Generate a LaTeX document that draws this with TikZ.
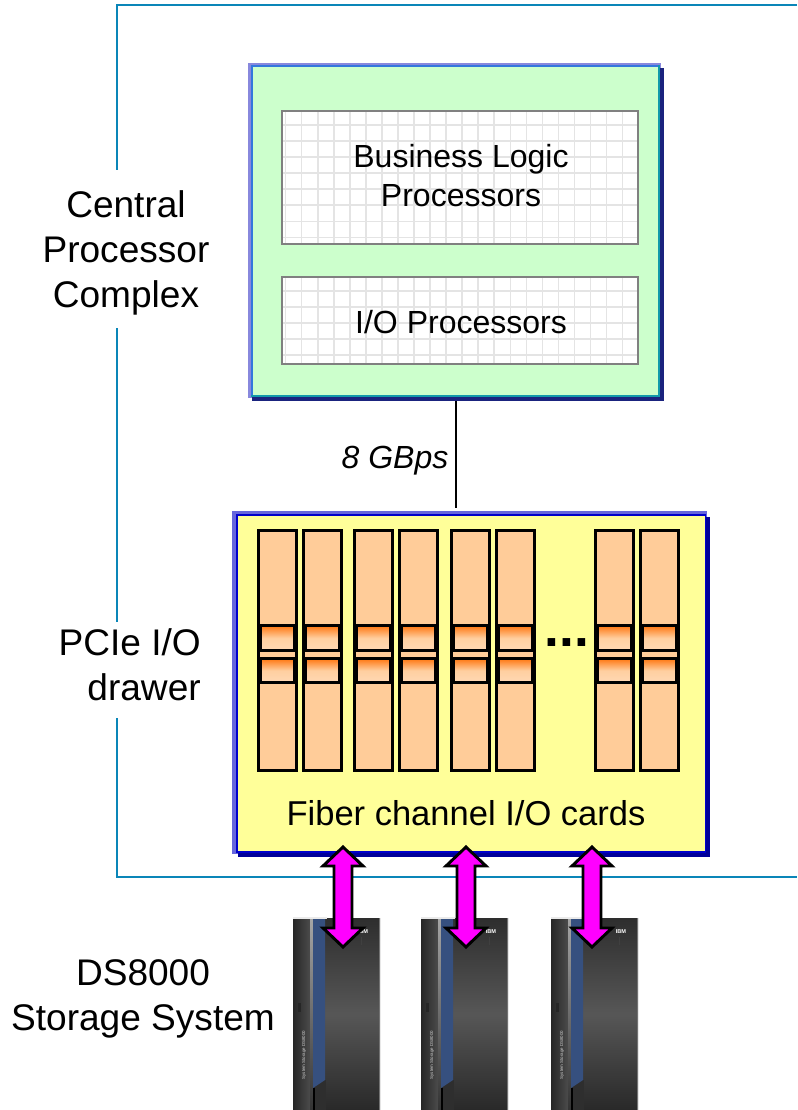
\documentclass[tikz,border=0pt]{standalone}
\usepackage{fontspec}
\setmainfont{Liberation Sans}
\definecolor{frameline}{HTML}{0A86B8}
\definecolor{cpcgreen}{HTML}{CCFFCC}
\definecolor{cpcteal}{HTML}{1199AA}
\definecolor{cpcblue}{HTML}{3377DD}
\definecolor{cpclight}{HTML}{8888DD}
\definecolor{shadownavy}{HTML}{1A237E}
\definecolor{drawerlight}{HTML}{6666DD}
\definecolor{drawerblue}{HTML}{0000CC}
\definecolor{drawernavy}{HTML}{000099}
\definecolor{draweryellow}{HTML}{FFFF99}
\definecolor{cardfill}{HTML}{FFCC99}
\definecolor{gridline}{HTML}{E4E4E4}
\definecolor{arrowpink}{HTML}{FF00FF}
\definecolor{porttop}{HTML}{FF7711}
\definecolor{portmid}{HTML}{FFCFA0}
\definecolor{portbot}{HTML}{FFD8B4}
\definecolor{rackblue}{HTML}{36507F}
\newcommand{\pxbox}[6]{%
  \pgfmathsetmacro{\bw}{((#4)-(#2))*0.75}%
  \pgfmathsetmacro{\bh}{((#5)-(#3))*0.75}%
  \node[rectbase,minimum width=\bw pt,minimum height=\bh pt,#6] (#1) at ({((#2)+(#4))/2},{((#3)+(#5))/2}) {};}
\tikzset{
  x=0.75pt,y=-0.75pt,
  rectbase/.style={rectangle,inner sep=0pt,outer sep=0pt},
  biglabel/.style={font=\fontsize{27.8}{33.75}\selectfont,align=center,inner sep=0pt,text=black},
  inlabel/.style={font=\fontsize{24}{29.25}\selectfont,align=center,inner sep=0pt,text=black},
  framestyle/.style={draw=frameline,line width=1.1pt},
  procbox/.style={draw=black!50,line width=1.6pt},
  cardbox/.style={draw=black,line width=2.1pt,fill=cardfill},
  portbox/.style={draw=black,line width=2.5pt,top color=porttop,bottom color=portbot,middle color=portmid},
  ioarrow/.style={draw=black,line width=2.2pt,fill=arrowpink,line join=miter},
}
\begin{document}
\begin{tikzpicture}
\useasboundingbox (0,0) rectangle (797,1110);
\fill[white] (0,0) rectangle (797,1110);
% frame
\coordinate (ftl) at (117,5); \coordinate (ftr) at (797,5);
\coordinate (fbl) at (117,877); \coordinate (fbr) at (797,877);
\coordinate (g1) at (117,170); \coordinate (g2) at (117,328);
\coordinate (g3) at (117,622); \coordinate (g4) at (117,718);
\draw[framestyle] (ftr) -- (ftl) -- (g1);
\draw[framestyle] (g2) -- (g3);
\draw[framestyle] (g4) -- (fbl) -- (fbr);
% CPC box
\pxbox{cpclightbox}{248}{63}{661}{398}{fill=cpclight}
\pxbox{cpcshadow}{252}{68}{664}{401}{fill=shadownavy}
\pxbox{cpcedge}{251}{65}{660}{397}{fill=cpcteal}
\pxbox{cpcedgeb}{251}{65}{658}{395}{fill=cpcblue}
\pxbox{cpc}{253}{67}{658}{395}{fill=cpcgreen}
% processor boxes
\fill[white] (281,110) rectangle (638,244);
\fill[white] (281,276) rectangle (638,364);
\foreach \i in {0,...,21} {
  \draw[gridline,line width=1.2pt] ({285.6+16.05*\i},110) -- ({285.6+16.05*\i},244);
  \draw[gridline,line width=1.2pt] ({285.6+16.05*\i},276) -- ({285.6+16.05*\i},364);
}
\foreach \j in {0,...,7} {
  \draw[gridline,line width=1.2pt] (281,{125+16.05*\j}) -- (638,{125+16.05*\j});
}
\foreach \j in {0,...,4} {
  \draw[gridline,line width=1.2pt] (281,{291+16.05*\j}) -- (638,{291+16.05*\j});
}
\pxbox{blp}{282}{111}{638}{244}{procbox}
\pxbox{iop}{282}{277}{638}{364}{procbox}
\node[inlabel] (blptext) at (461,176) {Business Logic\\Processors};
\node[inlabel] (ioptext) at (461,322) {I/O Processors};
% drawer
\pxbox{drawerlightbox}{232}{511}{707}{854}{fill=drawerlight}
\pxbox{drawershadow}{238}{517}{710}{857}{fill=drawernavy}
\pxbox{draweredge}{236}{514}{706}{853}{fill=drawerblue}
\pxbox{drawer}{238}{516}{705}{851}{fill=draweryellow}
% link
\coordinate (linkend) at (456,508);
\draw[black,line width=1.1pt] (cpcshadow.south -| linkend) -- (linkend);
\node[inlabel,font=\fontsize{24}{29.25}\itshape] (gbps) at (395,461) {8 GBps};
% cards
\foreach \n/\a in {1/257,2/302,3/353,4/398,5/450,6/495,7/594,8/639} {
  \pxbox{card\n}{\a+1.5}{530.5}{\a+39.5}{770.5}{cardbox}
  \pxbox{porta\n}{\a+3.7}{625.7}{\a+37.3}{650.5}{portbox}
  \pxbox{portb\n}{\a+3.7}{658.7}{\a+37.3}{682.5}{portbox}
}
\node[font=\fontsize{40}{40}\bfseries\selectfont,inner sep=0pt] (dots) at (567,643) {...};
\node[font=\fontsize{25.9}{30}\selectfont,inner sep=0pt] (fibertext) at (466,813) {Fiber channel I/O cards};
% racks
\foreach \n/\r in {1/293,2/421,3/551} {
  \pxbox{rackleft\n}{\r}{918}{\r+20}{1110}{left color=black!85,right color=black!68}
  \pxbox{rack\n}{\r+32}{918}{\r+87}{1110}{top color=black!82,bottom color=black!84,middle color=black!66}
  \pxbox{rackstrip\n}{\r+17}{918}{\r+20}{1110}{top color=black!35,bottom color=black!80}
  \fill[black!82] (\r+20,1080) rectangle (\r+33,1110);
  \fill[rackblue] (\r+20,918) -- (\r+32,918) -- (\r+32,1080) -- (\r+20,1088) -- cycle;
  \fill[black] (\r+20,1088) rectangle (\r+22,1110);
  \fill[black!8] (\r,917) rectangle (\r+34,919);
  \fill[black!55] (\r+86,918) rectangle (\r+87,1110);
  \fill[black!85] (\r+5,1003) rectangle (\r+8,1012);
  \node[rotate=90,font=\fontsize{3.3}{4}\selectfont,text=black!20,inner sep=0pt] (racktext\n) at (\r+11,1055) {System Storage DS8000};
  \node[font=\fontsize{4.2}{5}\bfseries\selectfont,text=white,inner sep=0pt] (ibm\n) at (\r+70,932) {IBM};
  \fill[black!75] (\r+68,937) rectangle (\r+69,945);
}
% arrows
\foreach \n/\c in {1/343,2/466,3/592} {
  \draw[ioarrow] (\c,847) -- (\c+20,866) -- (\c+9,866) -- (\c+9,928) -- (\c+20,928)
     -- (\c,947) -- (\c-20,928) -- (\c-9,928) -- (\c-9,866) -- (\c-20,866) -- cycle;
}
% labels
\node[biglabel] (cpclabel) at (126,253) {Central\\Processor\\Complex};
\node[biglabel,align=right,anchor=east] (drawerlabel) at (201,665) {PCIe I/O\\drawer};
\node[biglabel] (dslabel) at (143,998.5) {DS8000\\Storage System};
\end{tikzpicture}
\end{document}
